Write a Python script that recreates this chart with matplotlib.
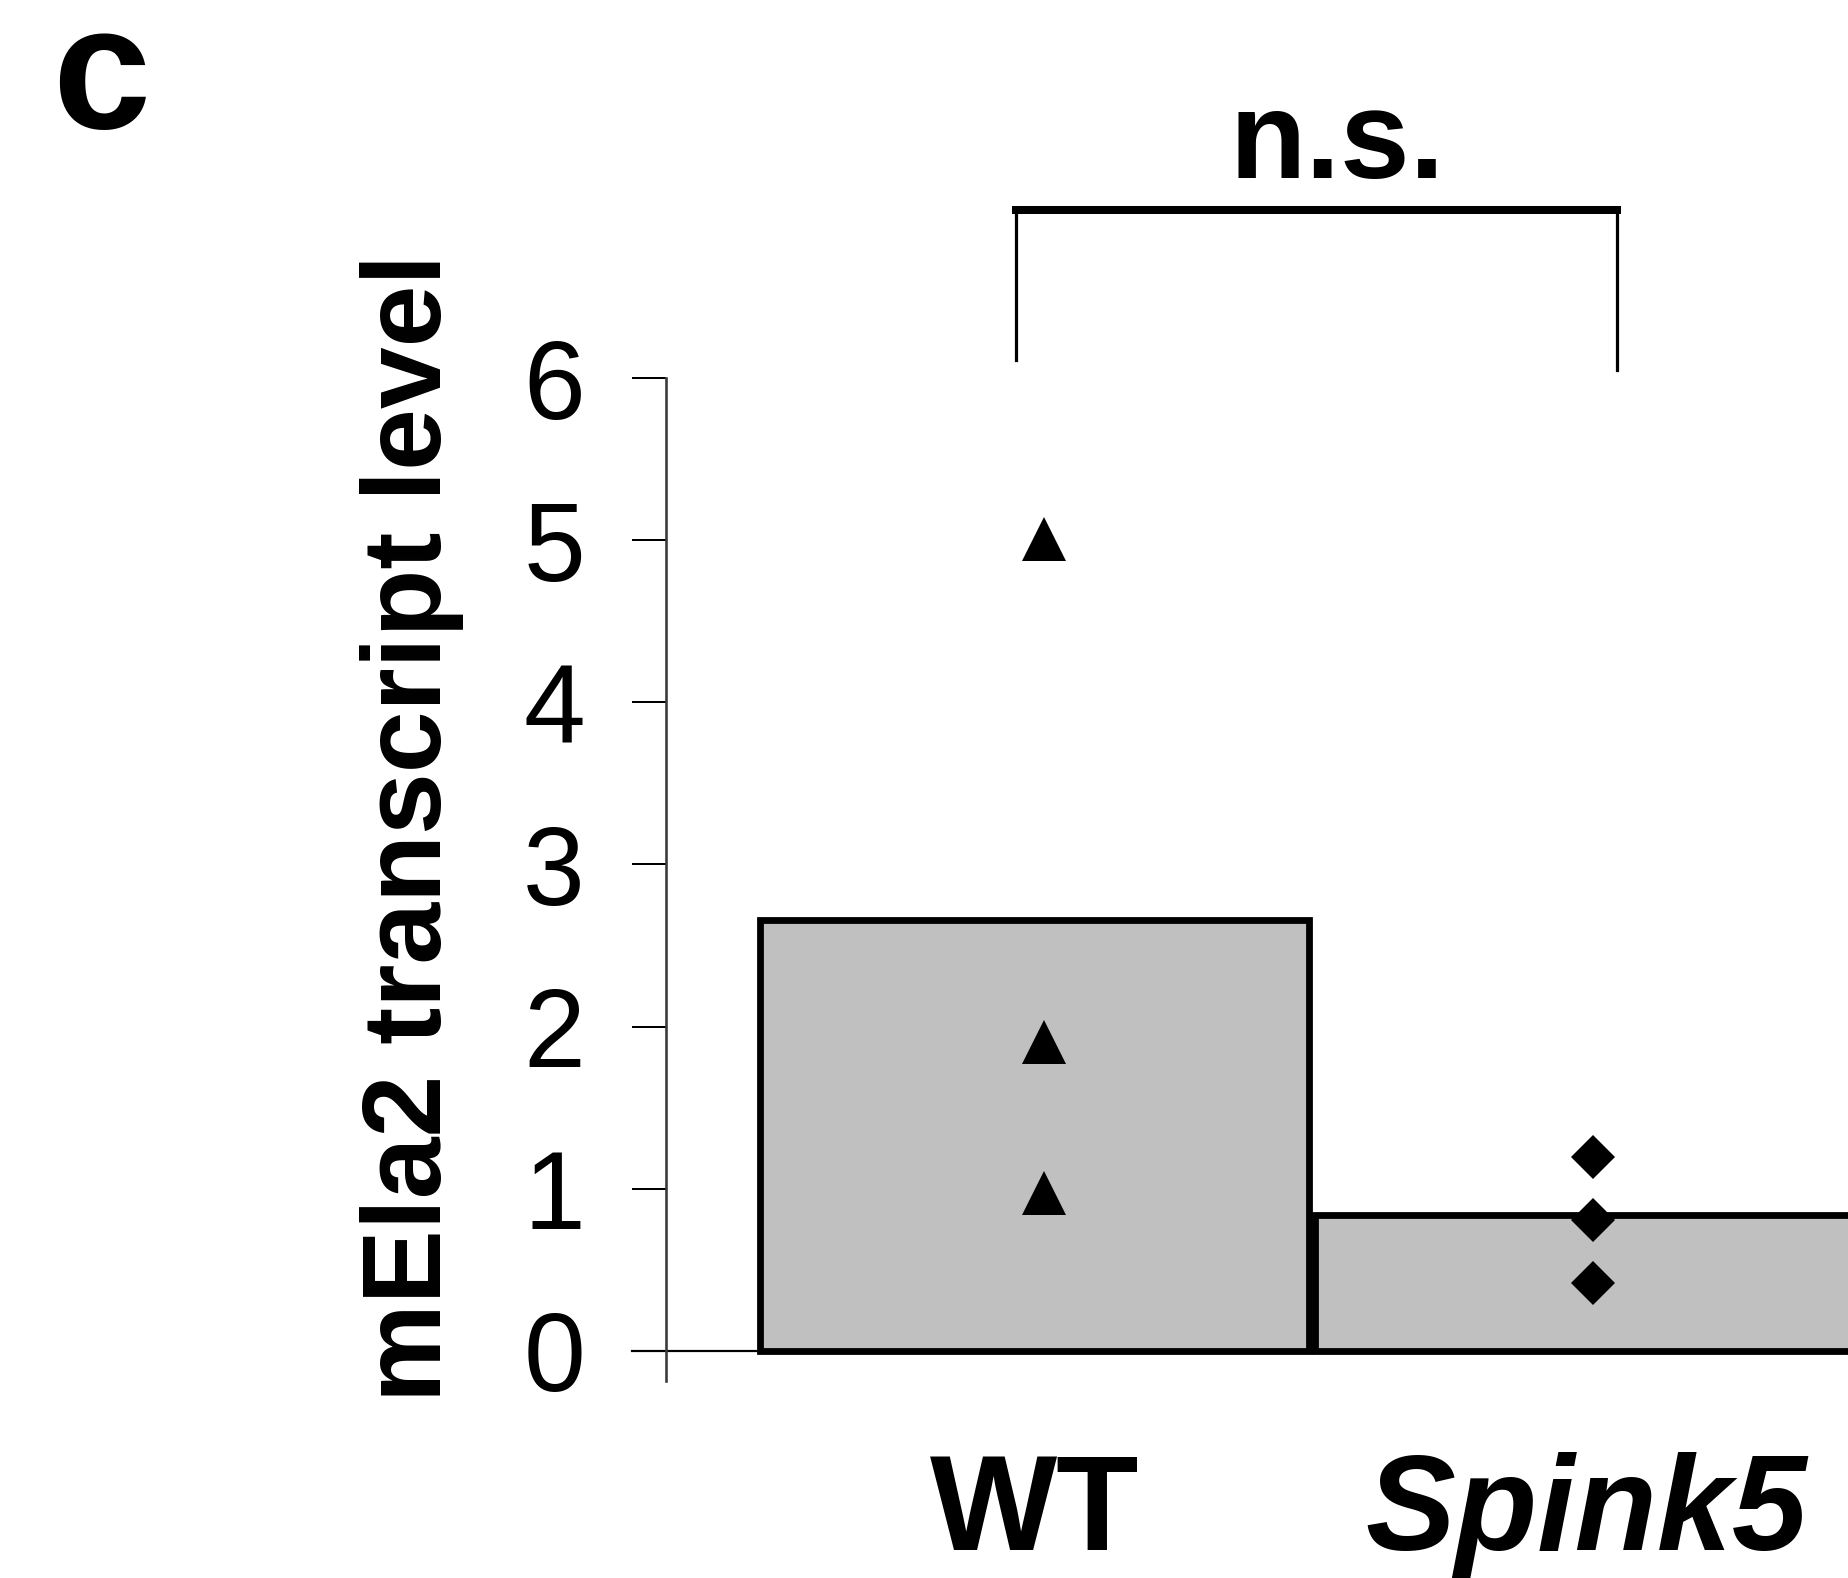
import matplotlib
matplotlib.use("Agg")
import matplotlib.pyplot as plt
from matplotlib.transforms import blended_transform_factory

plt.rcParams['font.family'] = ['Liberation Sans', 'DejaVu Sans']

# ---- data ----
categories = ["WT", "Spink5"]
bar_means = [2.66, 0.84]
wt_points = [5.01, 1.905, 0.977]
spink5_points = [1.196, 0.808, 0.419]
y_ticks = [0, 1, 2, 3, 4, 5, 6]
y_label = "mEla2 transcript level"
sig_text = "n.s."
panel_label = "c"

DPI = 100
W, H = 1848, 1578
fig = plt.figure(figsize=(W / DPI, H / DPI), dpi=DPI)
px = 72.0 / DPI  # points per pixel

# axes placement (pixels)
ax_left, ax_right, ax_top, ax_bottom = 666, 1848, 378, 1381
ax = fig.add_axes([ax_left / W, 1 - ax_bottom / H,
                   (ax_right - ax_left) / W, (ax_bottom - ax_top) / H])

xpos = list(range(len(categories)))
bar_lw_px = 6.8
bar_w = 1 - bar_lw_px / 555.0
ax.bar(xpos, bar_means, width=bar_w, color="#C0C0C0", edgecolor="black",
       linewidth=bar_lw_px * px, zorder=2)

ax.plot([xpos[0] + 0.017] * len(wt_points), wt_points, linestyle="none",
        marker="^", markersize=32, color="black", markeredgewidth=0, zorder=4)
ax.plot([xpos[1] + 0.006] * len(spink5_points), spink5_points, linestyle="none",
        marker="D", markersize=22.5, color="black", markeredgewidth=0, zorder=4)

ax.set_xlim(-0.664, 1.466)
ax.set_ylim(-0.185, 6)

for s in ["top", "right", "bottom"]:
    ax.spines[s].set_visible(False)
ax.spines["left"].set_color("#3a3a3a")
ax.spines["left"].set_linewidth(2.6 * px)

ax.set_yticks(y_ticks)
ax.set_yticklabels([str(t) for t in y_ticks])
ax.tick_params(axis="y", direction="out", length=34 * px, width=2 * px,
               color="black", labelsize=80, pad=47 * px)
ax.set_xticks([])

# x axis line at y = 0 extending like a tick to the left
ax.axhline(0, xmin=-34 / (ax_right - ax_left), xmax=1, color="black",
           linewidth=2.2 * px, clip_on=False, zorder=1)

# category labels
tr = blended_transform_factory(ax.transData, fig.transFigure)
base_y = 1 - 1550 / H
ax.text(xpos[0], base_y, categories[0], transform=tr, ha="center",
        va="baseline", fontsize=97, fontweight="bold")
ax.text(xpos[1] - 0.005, base_y, categories[1], transform=tr, ha="center",
        va="baseline", fontsize=97, fontweight="bold", fontstyle="italic")

# y label
fig.text(441 / W, 1 - 827.5 / H, y_label, rotation=90, rotation_mode="anchor",
         ha="center", va="baseline", fontsize=80, fontweight="bold")

# significance bracket
bx0, bx1 = -0.033, 1.05
by_top, by_left, by_right = 7.036, 6.11, 6.05
ax.plot([bx0, bx1], [by_top, by_top], color="black", linewidth=8 * px,
        clip_on=False, solid_capstyle="projecting")
ax.plot([bx0, bx0], [by_top, by_left], color="black", linewidth=3.2 * px,
        clip_on=False)
ax.plot([bx1, bx1], [by_top, by_right], color="black", linewidth=3.2 * px,
        clip_on=False)
tr2 = blended_transform_factory(ax.transData, fig.transFigure)
ax.text(0.545, 1 - 178 / H, sig_text, transform=tr2, ha="center",
        va="baseline", fontsize=90, fontweight="bold")

# panel label
fig.text(52 / W, 1 - 128 / H, panel_label, ha="left", va="baseline",
         fontsize=127, fontweight="bold")

fig.savefig("out.png", dpi=DPI, facecolor="white")
